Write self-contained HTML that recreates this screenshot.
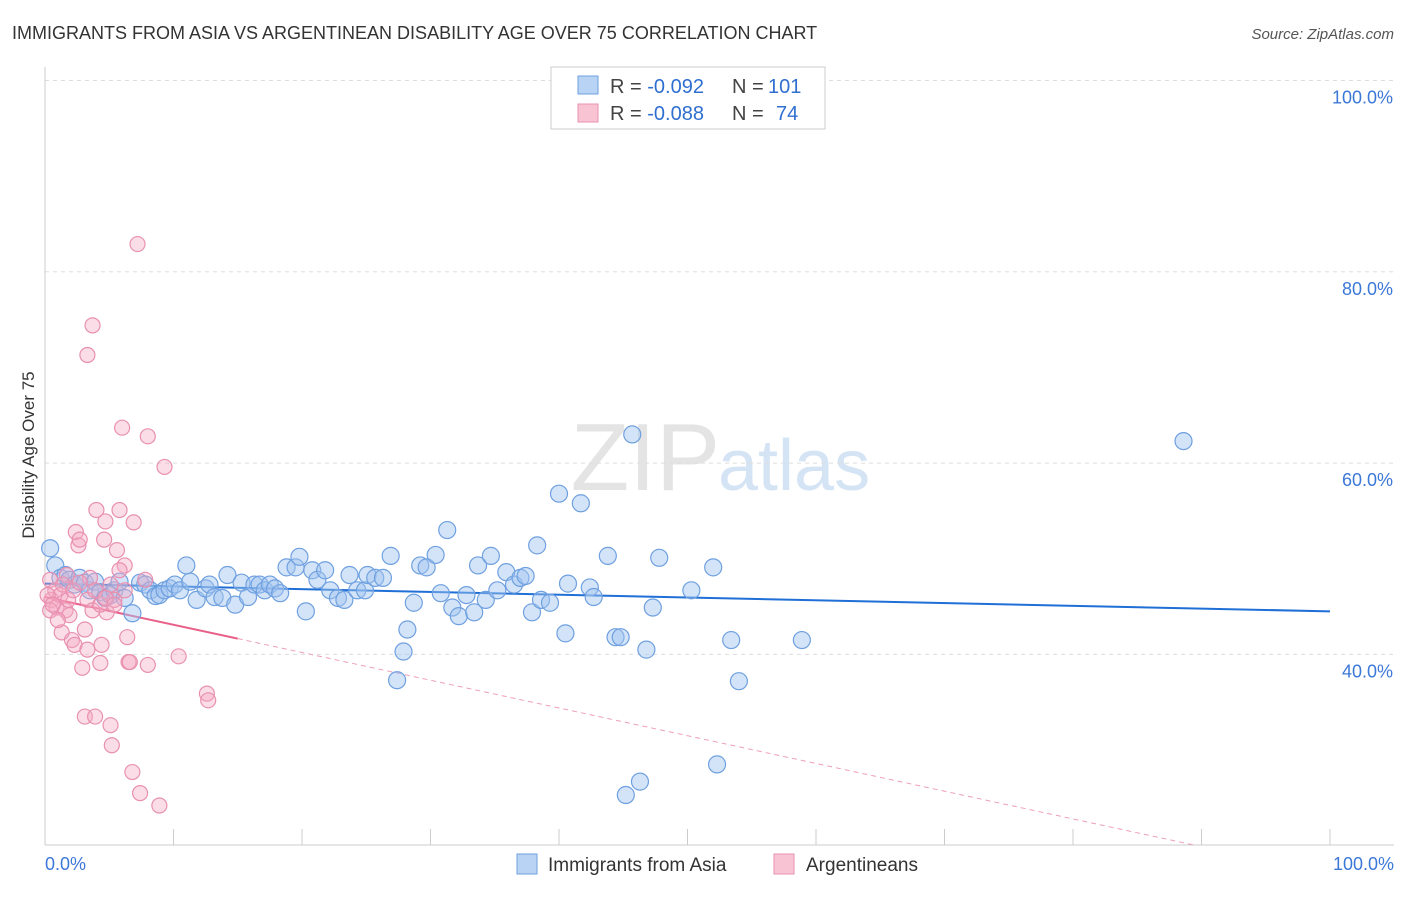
<!DOCTYPE html>
<html><head><meta charset="utf-8"><style>
body{margin:0;background:#fff;font-family:"Liberation Sans",sans-serif;}
svg text{font-family:"Liberation Sans",sans-serif;}
</style></head><body>
<svg id="chart" width="1406" height="892" xmlns="http://www.w3.org/2000/svg">
<text x="12" y="39" font-size="18" fill="#333">IMMIGRANTS FROM ASIA VS ARGENTINEAN DISABILITY AGE OVER 75 CORRELATION CHART</text>
<text x="1394" y="39" font-size="15" fill="#555" text-anchor="end" font-style="italic">Source: ZipAtlas.com</text>
<text x="720" y="490" font-size="96" fill="#e4e4e4" text-anchor="end" font-family="Liberation Serif">ZIP</text>
<text x="718" y="490" font-size="72" fill="#d5e4f5">atlas</text>
<g id="grid"></g><g id="axes"></g><g id="trend"></g><g id="pts"></g>
<text transform="translate(34,455) rotate(-90)" font-size="17" fill="#333" text-anchor="middle">Disability Age Over 75</text>
<g>
<rect x="551" y="67" width="274" height="62" fill="#fff" stroke="#ccc"/>
<rect x="578" y="76" width="20" height="18" fill="#b8d3f4" stroke="#6fa0e0"/>
<rect x="578" y="104" width="20" height="18" fill="#f8c4d4" stroke="#e890b0"/>
<text x="610" y="93" font-size="20" fill="#444">R = <tspan fill="#2f6fd0">-0.092</tspan></text>
<text x="732" y="93" font-size="20" fill="#444">N =</text>
<text x="768" y="93" font-size="20" fill="#2f6fd0">101</text>
<text x="610" y="120" font-size="20" fill="#444">R = <tspan fill="#2f6fd0">-0.088</tspan></text>
<text x="732" y="120" font-size="20" fill="#444">N =</text>
<text x="776" y="120" font-size="20" fill="#2f6fd0">74</text>
</g>
<g>
<rect x="517" y="854" width="20" height="20" fill="#b8d3f4" stroke="#6fa0e0"/>
<text x="548" y="871" font-size="19" fill="#333">Immigrants from Asia</text>
<rect x="774" y="854" width="20" height="20" fill="#f8c4d4" stroke="#e890b0"/>
<text x="806" y="871" font-size="19" fill="#333">Argentineans</text>
</g>
</svg>
<script>
const yTicks=[40,60,80,100];
const xTickLabels=["0.0%","100.0%"];
const blueX=[0.4,0.8,1.2,1.6,1.9,2.3,2.7,3.1,3.5,3.9,4.3,4.7,5.1,5.4,5.8,6.2,6.8,7.4,7.8,8.2,8.6,8.9,9.3,9.7,10.1,10.5,11.0,11.3,11.8,12.5,12.8,13.2,13.8,14.2,14.8,15.3,15.8,16.3,16.7,17.1,17.5,17.9,18.3,18.8,19.5,19.8,20.3,20.8,21.2,21.8,22.2,22.8,23.3,23.7,24.3,24.9,25.1,25.7,26.3,26.9,27.4,27.9,28.2,28.7,29.2,29.7,30.4,31.3,30.8,31.7,32.2,32.8,33.4,33.7,34.3,34.7,35.2,35.9,36.5,37.0,37.4,37.9,38.3,38.6,39.3,40.0,40.5,40.7,41.7,42.4,42.7,43.8,44.4,44.8,45.2,45.7,46.3,46.8,47.3,47.8,50.3,52.0,52.3,53.4,54.0,58.9,88.6];
const blueY=[51.1,49.3,48.0,48.3,47.8,47.3,48.0,47.5,46.7,47.6,46.5,45.9,46.2,46.7,47.6,45.9,44.3,47.5,47.3,46.7,46.1,46.2,46.7,46.9,47.3,46.7,49.3,47.6,45.7,46.9,47.3,46.0,45.9,48.3,45.2,47.5,46.0,47.3,47.3,46.7,47.3,46.9,46.4,49.1,49.1,50.2,44.5,48.8,47.8,48.8,46.7,45.9,45.7,48.3,46.7,46.7,48.3,48.0,48.0,50.3,37.3,40.3,42.6,45.4,49.3,49.1,50.4,53.0,46.4,44.9,44.0,46.2,44.4,49.3,45.7,50.3,46.7,48.6,47.3,48.0,48.2,44.4,51.4,45.7,45.4,56.8,42.2,47.4,55.8,47.0,46.0,50.3,41.8,41.8,25.3,63.0,26.7,40.5,44.9,50.1,46.7,49.1,28.5,41.5,37.2,41.5,62.3];
const pinkX=[0.4,0.5,0.8,0.9,1.2,1.3,1.6,1.7,1.9,2.1,2.3,2.4,2.6,2.7,2.9,3.1,3.3,3.3,3.5,3.7,3.7,3.9,4.0,4.3,4.4,4.6,4.7,4.8,5.1,5.2,5.4,5.6,5.8,6.0,6.2,6.4,6.5,6.6,6.8,6.9,7.2,7.4,7.8,8.0,8.0,8.9,9.3,10.4,12.6,12.7,0.2,0.4,0.6,1.0,1.4,1.8,2.2,2.7,3.1,3.3,3.9,4.3,4.7,5.1,5.4,5.8,6.2];
const pinkY=[47.8,45.7,46.7,44.9,46.2,42.3,44.6,48.3,44.1,41.5,41.0,52.8,51.4,52.0,38.6,33.5,45.7,71.3,48.0,44.6,74.4,33.5,55.1,39.1,41.0,52.0,53.9,44.4,32.6,30.5,45.7,50.9,55.1,63.7,49.3,41.8,39.2,39.2,27.7,53.8,82.9,25.5,47.8,62.8,38.9,24.2,59.6,39.8,35.9,35.2,46.2,44.6,45.2,43.6,47.3,45.7,46.7,47.5,42.6,40.5,46.7,45.2,45.9,47.3,45.2,48.8,46.7];
const blueTrend=[47.4,44.5];
const pinkTrend=[46.0,-0.29,15,89.5];
const NS="http://www.w3.org/2000/svg";
const X=v=>45+v*12.85, Y=v=>1037-v*9.565;
function mk(tag,attrs,parent){const e=document.createElementNS(NS,tag);for(const k in attrs)e.setAttribute(k,attrs[k]);document.getElementById(parent).appendChild(e);return e;}
yTicks.forEach(t=>{
 const l=mk('line',{x1:45,x2:1394,y1:Y(t),y2:Y(t),stroke:'#ddd','stroke-dasharray':'4,4'},'grid');
 
 
 const tx=mk('text',{x:1393,y:Y(t)+23,'font-size':18,fill:'#3c78d8','text-anchor':'end'},'grid');tx.textContent=t.toFixed(1)+'%';
 
 
});
const ax=mk('line',{x1:45,x2:1394,y1:845,y2:845,stroke:'#ccc'},'axes');


const ay=mk('line',{x1:45,x2:45,y1:67,y2:845,stroke:'#ccc'},'axes');


for(let i=1;i<=10;i++){const t=mk('line',{x1:X(i*10),x2:X(i*10),y1:829,y2:845,stroke:'#ccc'},'axes');
 
 }
[[0,45,'start'],[100,1394,'end']].forEach((p,i)=>{const t=mk('text',{x:p[1],y:870,'font-size':18,fill:'#3c78d8','text-anchor':p[2]},'axes');t.textContent=xTickLabels[i];
 
 });
const bt=mk('line',{x1:X(0),y1:Y(blueTrend[0]),x2:X(100),y2:Y(blueTrend[1]),stroke:'#1f6fd6','stroke-width':2},'trend');


const pf=x=>pinkTrend[0]+pinkTrend[1]*x;
const pt=mk('line',{x1:X(0),y1:Y(pf(0)),x2:X(pinkTrend[2]),y2:Y(pf(pinkTrend[2])),stroke:'#e8608a','stroke-width':2},'trend');


const pd=mk('line',{x1:X(pinkTrend[2]),y1:Y(pf(pinkTrend[2])),x2:X(pinkTrend[3]),y2:Y(pf(pinkTrend[3])),stroke:'#eea0b8','stroke-width':1,'stroke-dasharray':'5,4'},'trend');


blueX.forEach((x,i)=>{const c=mk('circle',{cx:X(x),cy:Y(blueY[i]),r:8.5,fill:'rgba(160,196,240,0.45)',stroke:'#6fa0e0','stroke-width':1.2},'pts');
 
 });
pinkX.forEach((x,i)=>{const c=mk('circle',{cx:X(x),cy:Y(pinkY[i]),r:7.5,fill:'rgba(245,170,195,0.4)',stroke:'#e890b0','stroke-width':1.2},'pts');
 
 });
</script>
</body></html>
